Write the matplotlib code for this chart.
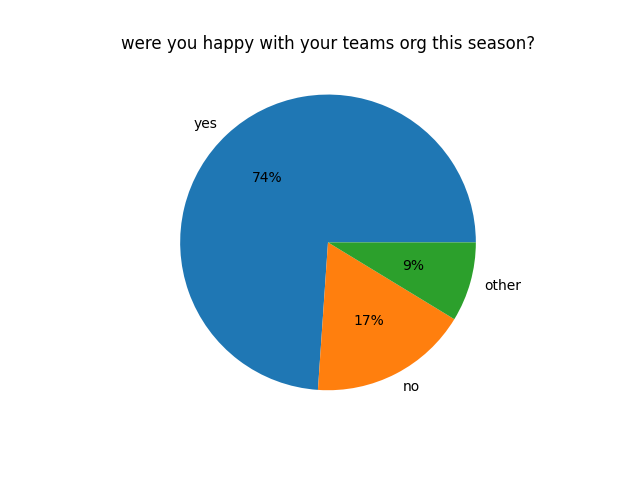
import matplotlib
matplotlib.use("Agg")
import matplotlib.pyplot as plt

labels = ["yes", "no", "other"]
values = [17, 4, 2]

fig, ax = plt.subplots(figsize=(6.4, 4.8), dpi=100)
ax.pie(values, labels=labels, autopct="%1.0f%%")
ax.set_title("were you happy with your teams org this season?")
fig.savefig("out.png")
